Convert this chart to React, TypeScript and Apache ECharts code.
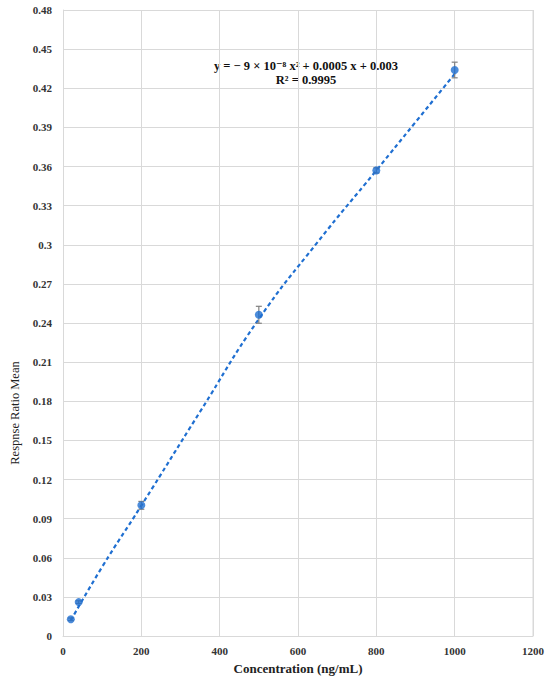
import React, { useEffect, useRef } from "react";
import * as echarts from "echarts";

const concentrations = [20, 40, 200, 500, 800, 1000];
const meanValues = [0.0128, 0.026, 0.1002, 0.2463, 0.357, 0.434];
const errorValues = [0.001, 0.001, 0.003, 0.0065, 0.002, 0.006];
const trendX = [20, 100, 200, 350, 500, 650, 800, 900, 1000];
const trendY = [0.012, 0.053, 0.1, 0.172, 0.243, 0.302, 0.357, 0.394, 0.431];
const equationLine1 = "y = − 9 × 10⁻⁸ x² + 0.0005 x + 0.003";
const equationLine2 = "R² = 0.9995";

const FONT = "'Liberation Serif', 'DejaVu Serif', serif";
const BLUE = "#1f6fd1";

export default function App() {
  const ref = useRef<HTMLDivElement>(null);
  useEffect(() => {
    if (!ref.current) return;
    const chart = echarts.init(ref.current, undefined, { renderer: "svg" });
    const points = concentrations.map((x, i) => [x, meanValues[i]]);
    const errs = concentrations.map((x, i) => [x, meanValues[i] - errorValues[i], meanValues[i] + errorValues[i]]);
    const trend = trendX.map((x, i) => [x, trendY[i]]);
    chart.setOption({
      animation: false,
      grid: { left: 63, right: 17, top: 10, bottom: 43, containLabel: false, show: false },
      xAxis: {
        type: "value",
        min: 0,
        max: 1200,
        interval: 200,
        axisLine: { show: true, lineStyle: { color: "#d9d9d9", width: 1 } },
        axisTick: { show: false },
        splitLine: { show: true, lineStyle: { color: "#d9d9d9", width: 1 } },
        axisLabel: {
          fontFamily: FONT,
          fontWeight: "bold",
          fontSize: 11,
          color: "#333",
          margin: 9,
          formatter: (v: number) => String(v),
        },
      },
      yAxis: {
        type: "value",
        min: 0,
        max: 0.48,
        interval: 0.03,
        axisLine: { show: true, lineStyle: { color: "#d9d9d9", width: 1 } },
        axisTick: { show: false },
        splitLine: { show: true, lineStyle: { color: "#d9d9d9", width: 1 } },
        axisLabel: {
          fontFamily: FONT,
          fontWeight: "bold",
          fontSize: 11,
          color: "#333",
          margin: 11,
          formatter: (v: number) => String(parseFloat(v.toFixed(2))),
        },
      },
      graphic: [
        { type: "line", shape: { x1: 533, y1: 10, x2: 533, y2: 636 }, style: { stroke: "#d9d9d9", lineWidth: 1 }, z: 0 },
        {
          type: "text",
          x: 306,
          y: 66,
          style: { text: equationLine1, font: `bold 12.5px ${FONT}`, fill: "#111", align: "center", verticalAlign: "middle" },
        },
        {
          type: "text",
          x: 306,
          y: 80,
          style: { text: equationLine2, font: `bold 12.5px ${FONT}`, fill: "#111", align: "center", verticalAlign: "middle" },
        },
        {
          type: "text",
          x: 298,
          y: 668,
          style: { text: "Concentration (ng/mL)", font: `bold 13px ${FONT}`, fill: "#222", align: "center", verticalAlign: "middle" },
        },
        {
          type: "text",
          x: 15,
          y: 413,
          rotation: Math.PI / 2,
          style: { text: "Respnse Ratio Mean", font: `12.5px ${FONT}`, fill: "#222", align: "center", verticalAlign: "middle" },
        },
      ],
      series: [
        {
          type: "line",
          data: trend,
          smooth: true,
          symbol: "none",
          lineStyle: { color: BLUE, width: 2.2, type: [4, 3] },
          z: 2,
        },
        {
          type: "custom",
          data: errs,
          z: 3,
          renderItem: (params: any, api: any) => {
            const x = api.value(0);
            const lo = api.coord([x, api.value(1)]);
            const hi = api.coord([x, api.value(2)]);
            const cap = 3;
            const style = { stroke: "#808080", lineWidth: 1.2 };
            return {
              type: "group",
              children: [
                { type: "line", shape: { x1: lo[0], y1: lo[1], x2: hi[0], y2: hi[1] }, style },
                { type: "line", shape: { x1: lo[0] - cap, y1: lo[1], x2: lo[0] + cap, y2: lo[1] }, style },
                { type: "line", shape: { x1: hi[0] - cap, y1: hi[1], x2: hi[0] + cap, y2: hi[1] }, style },
              ],
            };
          },
        },
        {
          type: "scatter",
          data: points,
          symbol: "circle",
          symbolSize: 8,
          itemStyle: { color: BLUE },
          z: 4,
        },
      ],
    });
    return () => chart.dispose();
  }, []);
  return <div ref={ref} style={{ width: 550, height: 679, position: "absolute", left: 0, top: 0 }} />;
}
